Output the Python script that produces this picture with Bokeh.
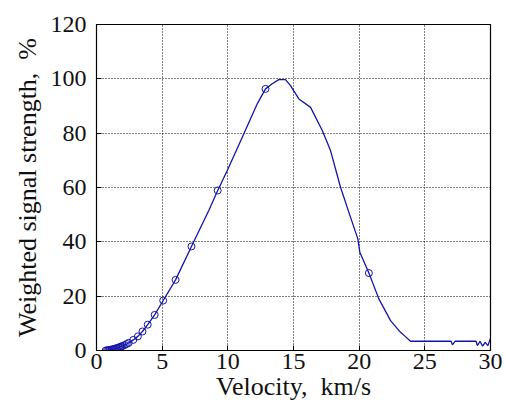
from bokeh.plotting import figure
from bokeh.models import FixedTicker, Range1d
from bokeh.embed import file_html
from bokeh.resources import INLINE

# Curve: velocity (km/s) vs weighted signal strength (%)
velocity = [0.7, 0.8, 0.9, 1.0, 1.1, 1.2, 1.3, 1.4, 1.5, 1.6, 1.7, 1.8, 1.9, 2.0,
            2.15, 2.3, 2.45, 2.8, 3.15, 3.5, 3.9, 4.43, 5.08, 6.02, 7.23, 8.55,
            9.23, 9.95, 11.22, 12.24, 12.87, 13.38, 13.88, 14.39, 14.77, 15.41,
            16.3, 17.19, 17.82, 18.58, 19.34, 19.9, 20.05, 20.74, 21.5, 22.39,
            23.15, 23.5, 23.91, 27.0, 27.1, 27.3, 28.9, 29.0, 29.2, 29.4, 29.6,
            29.8, 30.0]
strength = [0.0, 0.05, 0.1, 0.2, 0.3, 0.4, 0.5, 0.65, 0.8, 0.95, 1.1, 1.3, 1.5, 1.7,
            2.0, 2.4, 2.8, 3.9, 5.2, 7.0, 9.5, 13.1, 18.4, 26.0, 38.3, 51.5,
            58.9, 66.2, 79.8, 90.8, 96.3, 98.2, 99.7, 99.7, 97.5, 92.6,
            89.5, 81.0, 73.6, 60.1, 49.1, 41.1, 36.2, 28.5, 19.0, 11.0,
            6.7, 5.2, 3.4, 3.4, 2.1, 3.4, 3.4, 1.8, 3.4, 1.6, 3.0,
            1.8, 4.5]

# Circle markers
marker_v = [0.7, 0.8, 0.9, 1.0, 1.1, 1.2, 1.3, 1.4, 1.5, 1.6, 1.7, 1.8, 1.9, 2.0,
            2.15, 2.3, 2.45, 2.8, 3.15, 3.5, 3.9, 4.43, 5.08, 6.02, 7.23, 9.23,
            12.87, 20.74]
marker_s = [0.0, 0.05, 0.1, 0.2, 0.3, 0.4, 0.5, 0.65, 0.8, 0.95, 1.1, 1.3, 1.5, 1.7,
            2.0, 2.4, 2.8, 3.9, 5.2, 7.0, 9.5, 13.1, 18.4, 26.0, 38.3, 58.9,
            96.3, 28.5]

x_ticks = [0, 5, 10, 15, 20, 25, 30]
y_ticks = [0, 20, 40, 60, 80, 100, 120]

FONT = "'Liberation Serif', 'Times New Roman', Times, serif"
BLUE = "#1414a8"

p = figure(width=506, height=412, output_backend="svg", toolbar_location=None,
           x_range=Range1d(0, 30), y_range=Range1d(0, 120),
           min_border_left=96, min_border_right=16, min_border_top=24,
           min_border_bottom=62)
p.outline_line_color = "black"
p.outline_line_width = 1.2
p.background_fill_color = "white"
p.border_fill_color = "white"

p.line(velocity, strength, line_color=BLUE, line_width=1.3)
p.scatter(marker_v, marker_s, marker="circle", size=7, fill_color=None,
          line_color=BLUE, line_width=1)

for ax in (p.xaxis[0], p.yaxis[0]):
    ax.major_label_text_font = FONT
    ax.major_label_text_font_size = "24px"
    ax.major_label_text_color = "#111111"
    ax.axis_label_text_font = FONT
    ax.axis_label_text_font_size = "26px"
    ax.axis_label_text_font_style = "normal"
    ax.axis_label_text_color = "#111111"
    ax.major_tick_in = 5
    ax.major_tick_out = 0
    ax.minor_tick_line_color = None
    ax.axis_line_color = "black"

p.xaxis[0].ticker = FixedTicker(ticks=x_ticks)
p.yaxis[0].ticker = FixedTicker(ticks=y_ticks)
p.xaxis[0].axis_label = "Velocity,\u00a0 km/s"
p.yaxis[0].axis_label = "Weighted signal strength,\u00a0 %"
p.xaxis[0].major_label_standoff = 3
p.xaxis[0].axis_label_standoff = 0
p.yaxis[0].major_label_standoff = 10
p.yaxis[0].axis_label_standoff = 6

for g in (p.xgrid[0], p.ygrid[0]):
    g.grid_line_color = "black"
    g.grid_line_dash = "1 2"
    g.grid_line_width = 1
p.xgrid[0].ticker = FixedTicker(ticks=x_ticks)
p.ygrid[0].ticker = FixedTicker(ticks=y_ticks)

open("out.html", "w").write(file_html(p, INLINE))
